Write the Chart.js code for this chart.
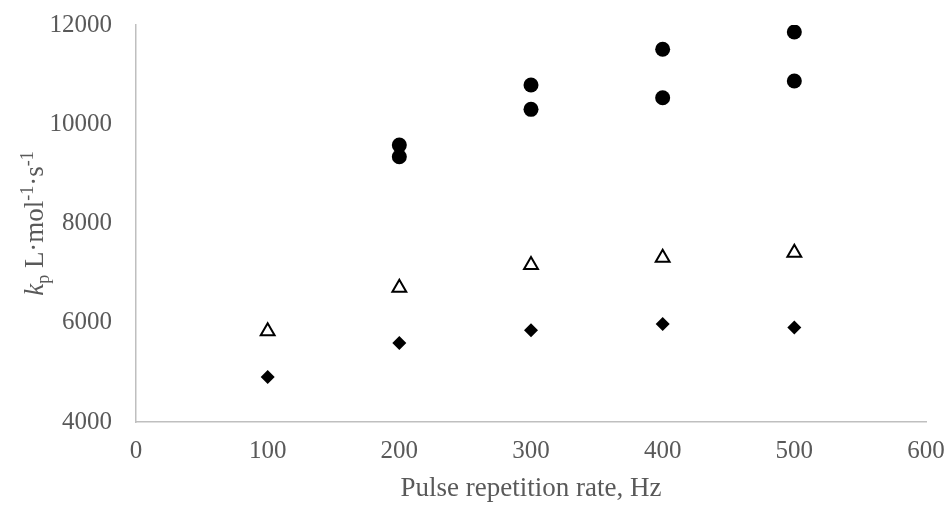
<!DOCTYPE html>
<html>
<head>
<meta charset="utf-8">
<title>kp vs pulse repetition rate</title>
<script src="https://cdn.jsdelivr.net/npm/chart.js@4"></script>
<style>
  html, body { margin: 0; padding: 0; background: #fff; }
  #wrap { width: 947px; height: 506px; position: relative; }
</style>
</head>
<body>
<div id="wrap"><canvas id="kpChart"></canvas></div>
<script>
// pulse repetition rate, Hz
const rateHz = [100, 200, 300, 400, 500];

// kp values, L·mol-1·s-1
const kpCircleUpper = [null, 9580, 10790, 11510, 11859];
const kpCircleLower = [null, 9344, 10300, 10534, 10871];
const kpTriangle = [5829, 6707, 7166, 7312, 7412];
const kpDiamond = [4908, 5594, 5850, 5977, 5904];

const xTicks = [0, 100, 200, 300, 400, 500, 600];
const yTicks = [4000, 6000, 8000, 10000, 12000];

const FONT = '"Liberation Serif", "Times New Roman", serif';
const TEXT = '#595959';
const AXIS = '#bfbfbf';

function toPoints(ys) {
  return rateHz.map((x, i) => ({ x: x, y: ys[i] })).filter(p => p.y != null);
}

// y axis title with italic k, subscript p and -1 superscripts
const yTitlePlugin = {
  id: 'yTitle',
  afterDraw(chart) {
    const ctx = chart.ctx;
    const area = chart.chartArea;
    const big = 27, small = 18;
    const parts = [
      { t: 'k', size: big, italic: true, dy: 0 },
      { t: 'p', size: small, italic: false, dy: 6 },
      { t: ' L·mol', size: big, italic: false, dy: 0 },
      { t: '-1', size: small, italic: false, dy: -10 },
      { t: '·s', size: big, italic: false, dy: 0 },
      { t: '-1', size: small, italic: false, dy: -10 }
    ];
    ctx.save();
    let total = 0;
    parts.forEach(p => {
      ctx.font = (p.italic ? 'italic ' : '') + p.size + 'px ' + FONT;
      p.w = ctx.measureText(p.t).width;
      total += p.w;
    });
    ctx.translate(43, (area.top + area.bottom) / 2);
    ctx.rotate(-Math.PI / 2);
    ctx.fillStyle = TEXT;
    ctx.textBaseline = 'alphabetic';
    ctx.textAlign = 'left';
    let x = -total / 2;
    parts.forEach(p => {
      ctx.font = (p.italic ? 'italic ' : '') + p.size + 'px ' + FONT;
      ctx.fillText(p.t, x, p.dy);
      x += p.w;
    });
    ctx.restore();
  }
};

new Chart(document.getElementById('kpChart'), {
  type: 'scatter',
  data: {
    datasets: [
      {
        data: toPoints(kpCircleUpper),
        pointStyle: 'circle', pointRadius: 7.5, pointHoverRadius: 7.5,
        backgroundColor: '#000', borderColor: '#000', borderWidth: 0
      },
      {
        data: toPoints(kpCircleLower),
        pointStyle: 'circle', pointRadius: 7.5, pointHoverRadius: 7.5,
        backgroundColor: '#000', borderColor: '#000', borderWidth: 0
      },
      {
        data: toPoints(kpTriangle),
        pointStyle: 'triangle', pointRadius: 8, pointHoverRadius: 8,
        backgroundColor: '#fff', borderColor: '#000', borderWidth: 2
      },
      {
        data: toPoints(kpDiamond),
        pointStyle: 'rectRot', pointRadius: 7, pointHoverRadius: 7,
        backgroundColor: '#000', borderColor: '#000', borderWidth: 0
      }
    ]
  },
  options: {
    responsive: true,
    maintainAspectRatio: false,
    animation: false,
    events: [],
    layout: { padding: { top: 25, right: 21, left: 0, bottom: 0 } },
    plugins: { legend: { display: false }, tooltip: { enabled: false } },
    scales: {
      x: {
        type: 'linear',
        min: xTicks[0], max: xTicks[xTicks.length - 1],
        afterBuildTicks: s => { s.ticks = xTicks.map(v => ({ value: v })); },
        afterFit: s => { s.height = 84; s.paddingLeft = 0; s.paddingRight = 0; },
        grid: { display: false, drawTicks: false },
        border: { display: true, color: AXIS, width: 1.5 },
        ticks: {
          color: TEXT, font: { family: FONT, size: 25 }, padding: 14, maxRotation: 0,
          callback: v => String(v)
        },
        title: {
          display: true, text: 'Pulse repetition rate, Hz', color: TEXT,
          font: { family: FONT, size: 27 }, padding: { top: 0, bottom: 1 }
        }
      },
      y: {
        type: 'linear',
        min: yTicks[0], max: yTicks[yTicks.length - 1],
        afterBuildTicks: s => { s.ticks = yTicks.map(v => ({ value: v })); },
        afterFit: s => { s.width = 136; s.paddingTop = 0; s.paddingBottom = 0; },
        grid: { display: false, drawTicks: false },
        border: { display: true, color: AXIS, width: 1.5 },
        ticks: {
          color: TEXT, font: { family: FONT, size: 25 }, padding: 24,
          callback: v => String(v)
        }
      }
    }
  },
  plugins: [yTitlePlugin]
});
</script>
</body>
</html>
